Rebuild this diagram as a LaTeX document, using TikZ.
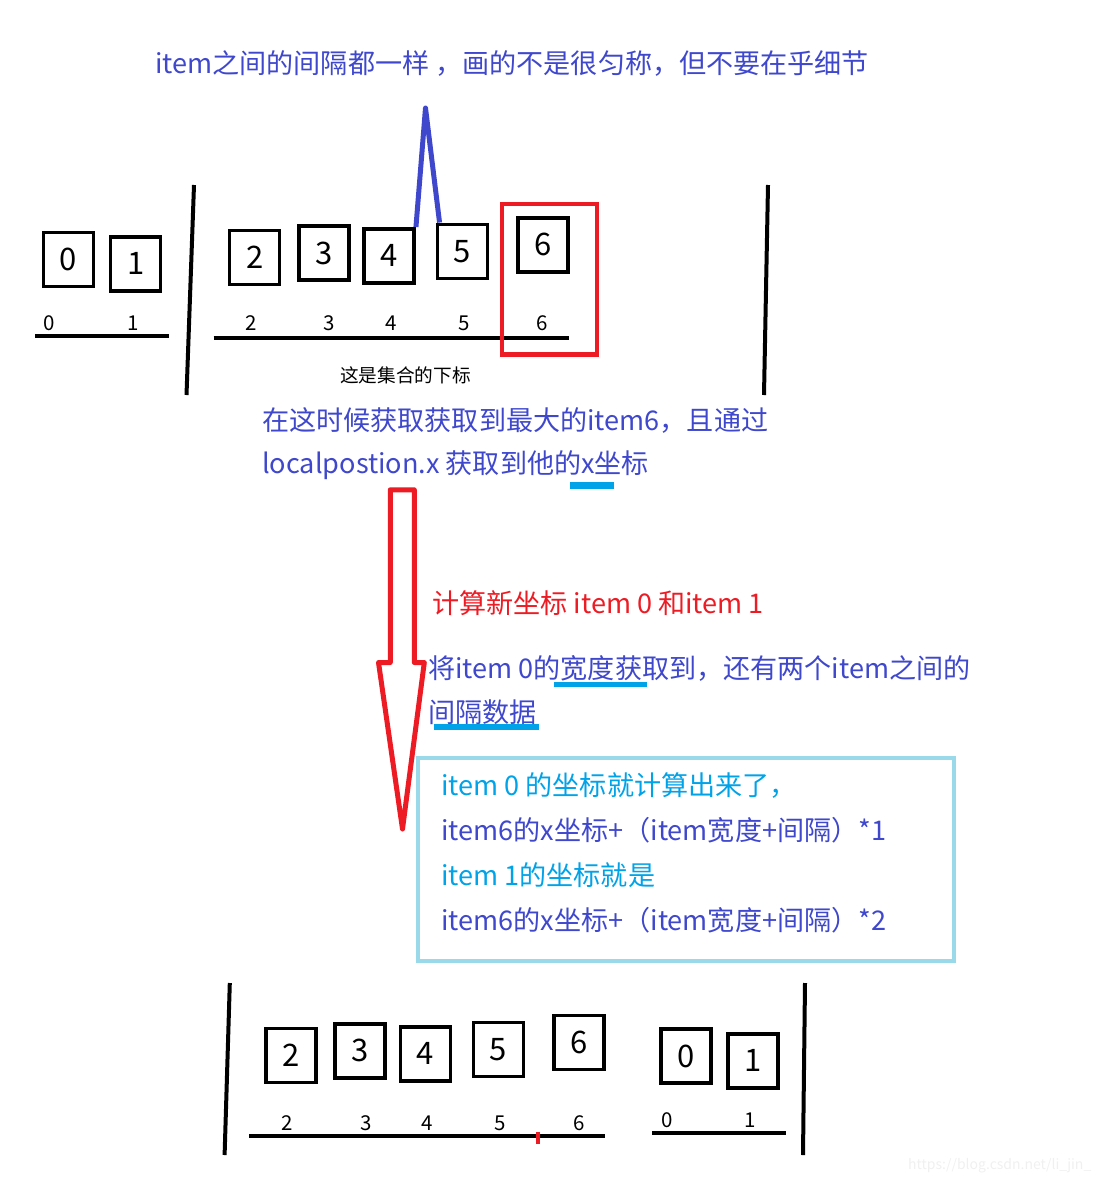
\documentclass[tikz,border=0pt]{standalone}
\usepackage{fontspec}
\setmainfont{Noto Sans CJK SC}
\definecolor{indigo}{HTML}{3F48CC}
\definecolor{paintred}{HTML}{ED1C24}
\definecolor{turq}{HTML}{00A2E8}
\definecolor{lightturq}{HTML}{99D9EA}
\begin{document}
\begin{tikzpicture}[x=1pt, y=-1pt,
                    itembox/.style  = {draw, line width=3.5pt, minimum width=50pt, minimum height=54pt, inner sep=0pt, font=\fontsize{31}{31}\selectfont},
                    index/.style    = {inner sep=0pt, font=\fontsize{20.5}{22}\selectfont},
                    note/.style     = {anchor=west, inner sep=0pt, font=\fontsize{27.1}{30}\selectfont},
                    divider/.style  = {line width=4pt},
                    axis/.style     = {line width=4pt},
                    underbar/.style = {turq, line width=6pt}]
                    \useasboundingbox (0,0) rectangle (1105,1183);

                    \node[note, indigo] (title) at (155,63) {item之间的间隔都一样 ，画的不是很匀称，但不要在乎细节};

                    \node[itembox] (a0) at (68.5,259.5)  {0};
                    \node[itembox] (a1) at (135.7,263.8) {1};
                    \node[itembox] (a2) at (254.6,257.5) {2};
                    \node[itembox] (a3) at (324.2,253)   {3};
                    \node[itembox] (a4) at (389.2,255.8) {4};
                    \node[itembox] (a5) at (462.3,251.3) {5};
                    \node[itembox] (a6) at (543,244.8)   {6};

                    \node[index] (ai0) at (49,323)    {0};
                    \node[index] (ai1) at (133.5,323) {1};
                    \node[index] (ai2) at (250.8,323) {2};
                    \node[index] (ai3) at (329.6,323) {3};
                    \node[index] (ai4) at (391,323)   {4};
                    \node[index] (ai5) at (464,323)   {5};
                    \node[index] (ai6) at (542,323)   {6};
                    \node[index, anchor=west, font=\fontsize{18.67}{20}\selectfont] (sub) at (340,375) {这是集合的下标};

                    \draw[axis] (35,335.7) -- (168.5,335.7);
                    \draw[axis] (213.5,337.7) -- (568.5,337.7);
                    \draw[divider] (194,185) -- (186.5,395);
                    \draw[divider] (768,185) -- (764,395);

                    \draw[paintred, line width=4.5pt] (502.2,204.2) rectangle (596.8,354.5);

                    \coordinate (apex) at (425.5,108);
                    \draw[indigo, line width=5pt, line join=round] (a4.north east) -- (apex) -- ([xshift=4pt]a5.north west);

                    \node[note, indigo] (find1) at (262,420) {在这时候获取获取到最大的item6，且通过};
                    \node[note, indigo] (find2) at (262,465) {localpostion.x 获取到他的x坐标};
                    \draw[underbar, line width=7pt] (570,485.7) -- (614,485.7);

                    \draw[paintred, line width=5pt, line join=round]
                        (390.3,489.8) -- (414.3,489.8) -- (414.3,662.5) -- (424.3,662.5)
                        -- (402.5,829) -- (378.5,662.5) -- (390.3,662.5) -- cycle;

                    \node[note, paintred] (calc) at (432,603) {计算新坐标 item 0 和item 1};
                    \node[note, indigo] (take1) at (428,668) {将item 0的宽度获取到，还有两个item之间的};
                    \node[note, indigo] (take2) at (428,712) {间隔数据};
                    \draw[underbar, line width=5pt] (554,684) -- (647,684);
                    \draw[underbar] (433.5,726.5) -- (539,726.5);

                    \draw[lightturq, line width=4pt] (417.6,758) rectangle (954,961);
                    \node[note, turq]   (res1) at (441,785) {item 0 的坐标就计算出来了，};
                    \node[note, indigo] (res2) at (441,830) {item6的x坐标+（item宽度+间隔）*1};
                    \node[note, turq]   (res3) at (441,875) {item 1的坐标就是};
                    \node[note, indigo] (res4) at (441,920) {item6的x坐标+（item宽度+间隔）*2};

                    \node[itembox] (b2) at (290.8,1055.5) {2};
                    \node[itembox] (b3) at (360,1050.8)   {3};
                    \node[itembox] (b4) at (425.5,1053.8) {4};
                    \node[itembox] (b5) at (498.5,1049.5) {5};
                    \node[itembox] (b6) at (579,1042.5)   {6};
                    \node[itembox] (b0) at (686,1056)     {0};
                    \node[itembox] (b1) at (752.8,1060.8) {1};

                    \node[index] (bi2) at (287.4,1123) {2};
                    \node[index] (bi3) at (365.7,1123) {3};
                    \node[index] (bi4) at (427.3,1123) {4};
                    \node[index] (bi5) at (500,1123)   {5};
                    \node[index] (bi6) at (578.8,1123) {6};
                    \node[index] (bi0) at (667,1120)   {0};
                    \node[index] (bi1) at (750.5,1120) {1};

                    \draw[axis] (249.3,1135.7) -- (604.6,1135.7);
                    \draw[axis] (652.3,1132.7) -- (785.8,1132.7);
                    \draw[paintred, line width=4pt] (537.8,1131.7) -- (537.8,1144);
                    \draw[divider] (229.8,983) -- (224.6,1155);
                    \draw[divider] (805,983) -- (803,1155);

                    \node[anchor=west, inner sep=0pt, gray!12, font=\fontsize{14}{16}\selectfont] (url) at (908,1166) {https://blog.csdn.net/li\_jin\_};

                \end{tikzpicture}
\end{document}
